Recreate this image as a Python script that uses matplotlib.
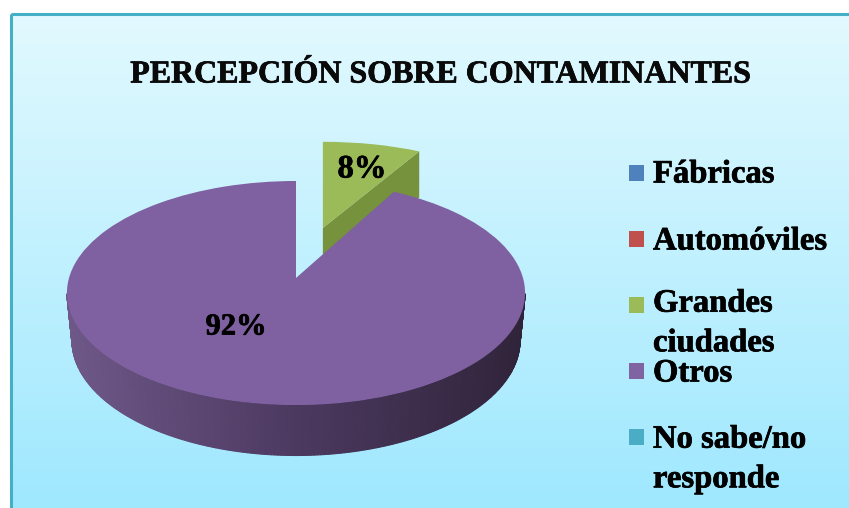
import matplotlib
matplotlib.use('Agg')
import matplotlib.pyplot as plt
import matplotlib.patheffects as pe
import numpy as np
from matplotlib.colors import LinearSegmentedColormap
from matplotlib.patches import Rectangle
from matplotlib.transforms import Transform

# Data
title = 'PERCEPCIÓN SOBRE CONTAMINANTES'
categories = ['Fábricas', 'Automóviles', 'Grandes\nciudades', 'Otros', 'No sabe/no\nresponde']
values = [0, 0, 8, 92, 0]
explode = [0, 0, 0.5, 0, 0]
colors = ['#4F81BD', '#C0504D', '#9BBB59', '#7F60A0', '#4BACC6']
legend_colors = ['#4F81BD', '#C0504D', '#9BBB59', '#8064A2', '#4BACC6']


class Tilt(Transform):
    # perspective view of the pie disc, output in pixels of the picture
    input_dims = 2
    output_dims = 2

    def __init__(self, x0, y0, a, b, k=0.134, kx=0.134):
        super().__init__()
        self.x0, self.y0, self.a, self.b, self.k, self.kx = x0, y0, a, b, k, kx

    def transform_non_affine(self, xy):
        xy = np.asarray(xy, dtype=float)
        return np.column_stack([self.x0 + self.a * xy[:, 0] / (1 + self.kx * xy[:, 1]),
                                self.y0 - self.b * xy[:, 1] / (1 + self.k * xy[:, 1])])


fig = plt.figure(figsize=(8.49, 5.08), dpi=100, facecolor='white')
ax = fig.add_axes([0, 0, 1, 1])
ax.axis('off')

wedges, _ = ax.pie(values, explode=explode, colors=colors, startangle=90,
                   counterclock=False, radius=1)
ax.set_aspect('auto')
ax.set_xlim(0, 849)
ax.set_ylim(508, 0)

# background panel
grad = LinearSegmentedColormap.from_list('bg', ['#E2F9FF', '#9FE8FE'])
ax.imshow(np.linspace(0, 1, 256).reshape(-1, 1), cmap=grad, aspect='auto',
          extent=(11, 849, 508, 14), zorder=0)
ax.add_patch(Rectangle((11, 14), 840, 500, fill=False, ec='#45AFC6', lw=2.2, zorder=1))

top = Tilt(296, 278, 227, 110)
bottom = Tilt(296, 325, 222, 113)
slice_top = Tilt(298, 278, 200, 110, kx=0)
slice_bottom = Tilt(298, 324, 200, 110, kx=0)
wall = LinearSegmentedColormap.from_list('wall', ['#6E5888', '#4C3960', '#30243A'])

for w in wedges:
    if w.theta2 - w.theta1 == 0:
        continue
    w.set_edgecolor('none')
    cx, cy = w.center

    if abs(cx) + abs(cy) < 1e-9:
        # round front wall of the big slice, between the widest points of the disc
        w.set_transform(top + ax.transData)
        w.set_zorder(5)
        t = np.radians(np.linspace(-172, -8, 241))
        px = np.cos(t)
        py = np.sin(t)
        rim_top = top.transform_non_affine(np.column_stack([cx + px, cy + py]))
        rim_bot = bottom.transform_non_affine(np.column_stack([cx + px, cy + py]))
        for i in range(len(t) - 1):
            poly = np.vstack([rim_top[i], rim_top[i + 1], rim_bot[i + 1], rim_bot[i]])
            c = wall((rim_top[i, 0] - 66) / 458)
            ax.fill(poly[:, 0], poly[:, 1], fc=c, ec=c, lw=0.8, zorder=4)
    else:
        # flat cut face of the pulled out slice
        w.set_transform(slice_top + ax.transData)
        w.set_zorder(3)
        t = np.radians(w.theta1)
        r = np.linspace(0, 1, 2)
        edge = np.column_stack([cx + r * np.cos(t), cy + r * np.sin(t)])
        a = slice_top.transform_non_affine(edge)
        b = slice_bottom.transform_non_affine(edge)
        poly = np.vstack([a, b[::-1]])
        ax.fill(poly[:, 0], poly[:, 1], color='#76923C', lw=0, zorder=2)

serif = 'Liberation Serif'
heavy = [pe.withStroke(linewidth=0.5, foreground='black')]
ax.text(441, 75, title, family=serif, weight='bold', fontsize=23,
        color='#0a0a0a', ha='center', va='center', zorder=6, path_effects=heavy)
ax.text(362, 169, f'{values[2]}%', family=serif, weight='bold', fontsize=23.5,
        color='black', ha='center', va='center', zorder=6, path_effects=heavy)
ax.text(236, 327, f'{values[3]}%', family=serif, weight='bold', fontsize=22,
        color='black', ha='center', va='center', zorder=6, path_effects=heavy)

# legend entries sit unevenly in the original, so they are placed one by one
legend_y = [173, 239, 305, 371, 437]
text_y = [174, 241, 323, 373, 459]
for label, c, y, ty in zip(categories, legend_colors, legend_y, text_y):
    ax.add_patch(Rectangle((629, y - 8), 15, 16, fc=c, ec='none', zorder=6))
    ax.text(653, ty, label, family=serif, weight='bold', fontsize=23.5,
            color='black', ha='left', va='center', linespacing=1.36, zorder=6,
            path_effects=heavy)

fig.savefig('out.png', dpi=100)
